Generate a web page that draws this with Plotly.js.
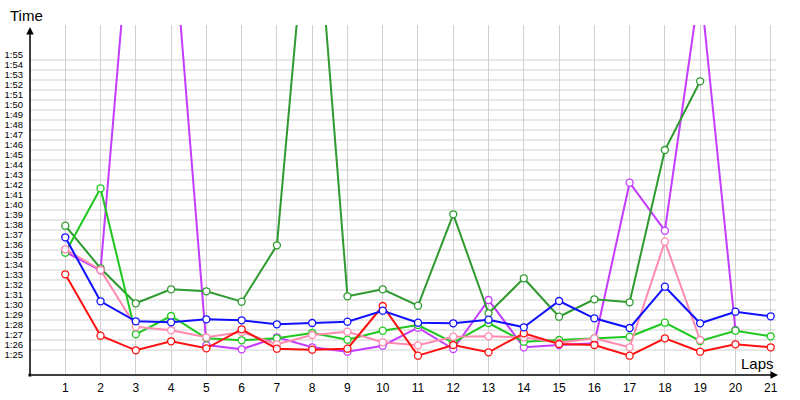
<!DOCTYPE html>
<html>
<head>
<meta charset="utf-8">
<script src="https://cdn.plot.ly/plotly-3.0.1.min.js"></script>
<style>
html,body{margin:0;padding:0;background:#ffffff;}
#chart{width:800px;height:400px;}
</style>
</head>
<body>
<div id="chart"></div>
<script>
// ---- data (lap times in seconds) ----
const laps = [1,2,3,4,5,6,7,8,9,10,11,12,13,14,15,16,17,18,19,20,21];
const lapLabels = ['1','2','3','4','5','6','7','8','9','10','11','12','13','14','15','16','17','18','19','20','21'];

const timeTickValues = [85,86,87,88,89,90,91,92,93,94,95,96,97,98,99,100,101,102,103,104,105,106,107,108,109,110,111,112,113,114,115];
const timeTickLabels = ['1:25','1:26','1:27','1:28','1:29','1:30','1:31','1:32','1:33','1:34','1:35','1:36','1:37','1:38','1:39','1:40','1:41','1:42','1:43','1:44','1:45','1:46','1:47','1:48','1:49','1:50','1:51','1:52','1:53','1:54','1:55'];
const gridTimes = [86,87,88,89,90,91,92,93,94,95,96,97,98,99,100,101,102,103,104,105,106,107,108,109,110,111,112,113,114,115];

const redTimes = [93.57,87.43,85.97,86.87,86.17,88.07,86.13,86.03,86.13,90.4,85.43,86.5,85.77,87.67,86.6,86.5,85.43,87.17,85.83,86.57,86.27];
const blueTimes = [97.27,90.87,88.87,88.77,89.07,88.97,88.57,88.7,88.83,89.93,88.73,88.67,89.03,88.27,90.9,89.17,88.2,92.33,88.67,89.83,89.37];
const greenTimes = [95.73,102.17,87.57,89.4,87.17,86.97,87.17,87.7,87.03,87.93,88.5,86.73,88.7,86.83,87.0,87.17,87.33,88.73,86.9,87.93,87.37];
const darkGreenTimes = [98.43,94.17,90.67,92.07,91.87,90.83,96.47,135.9,91.37,92.07,90.43,99.57,89.67,93.17,89.33,91.07,90.77,106.0,112.87];
const purpleTimes = [95.8,93.97,135.7,130.45,86.5,86.07,87.27,86.27,85.83,86.43,88.23,86.1,91.0,86.27,86.5,86.67,102.73,97.93,122.6,88.0];
const pinkTimes = [96.07,94.0,88.33,87.97,87.27,87.8,86.57,87.5,87.83,86.77,86.47,87.33,87.37,87.27,86.73,87.17,86.27,96.83,87.0];

const seriesList = [
  {name:'Purple', times: purpleTimes, color:'#c43cff'},
  {name:'Dark green', times: darkGreenTimes, color:'#2f9a2f'},
  {name:'Green', times: greenTimes, color:'#1ec81e'},
  {name:'Pink', times: pinkTimes, color:'#ff8ab0'},
  {name:'Red', times: redTimes, color:'#ff1010'},
  {name:'Blue', times: blueTimes, color:'#1010ff'}
];

const traces = seriesList.map(s => ({
  type:'scatter',
  mode:'lines+markers',
  name:s.name,
  x: laps.slice(0, s.times.length),
  y: s.times,
  line:{color:s.color, width:2},
  marker:{symbol:'circle', size:7, color:'#ffffff', line:{color:s.color, width:1.3}},
  cliponaxis:true,
  hoverinfo:'skip'
}));

const plotW = 746, plotH = 350;

// horizontal grid lines, one per second
const gridShapes = gridTimes.map(t => ({
  type:'line', xref:'paper', x0:0, x1:1, yref:'y', y0:t, y1:t,
  line:{color:'#d0d0d0', width:1}, layer:'below'
}));

const layout = {
  width:800, height:400,
  margin:{l:30, r:24, t:25, b:25, pad:0},
  paper_bgcolor:'#ffffff',
  plot_bgcolor:'#ffffff',
  showlegend:false,
  font:{family:'"Liberation Sans", Arial, sans-serif', color:'#000000'},
  xaxis:{
    range:[0, 21.15],
    tickmode:'array', tickvals:laps, ticktext:lapLabels,
    showgrid:true, gridcolor:'#d0d0d0', gridwidth:1,
    zeroline:false, showline:false, ticks:'',
    tickfont:{size:12, color:'#000000'},
    ticklabelstandoff:4,
    fixedrange:true
  },
  yaxis:{
    range:[83.5, 118.5],
    tickmode:'array', tickvals:timeTickValues, ticktext:timeTickLabels,
    showgrid:false, zeroline:false, showline:false, ticks:'',
    tickfont:{size:9.5, color:'#000000'},
    ticklabelshift:-5,
    ticklabelstandoff:6,
    fixedrange:true
  },
  annotations:[
    {xref:'paper', yref:'paper', x:0, y:(375-27)/plotH, ax:0, ay:348, axref:'pixel', ayref:'pixel',
     showarrow:true, arrowhead:2, arrowsize:1, arrowwidth:1.5, arrowcolor:'#000000', text:''},
    {xref:'paper', yref:'paper', x:(778-30)/plotW, y:0, ax:-748, ay:0, axref:'pixel', ayref:'pixel',
     showarrow:true, arrowhead:2, arrowsize:1, arrowwidth:1.5, arrowcolor:'#000000', text:''},
    {xref:'paper', yref:'paper', x:(8-30)/plotW, y:(375-16)/plotH, xanchor:'left', yanchor:'middle',
     text:'Time', showarrow:false, font:{size:15, color:'#000000'}},
    {xref:'paper', yref:'paper', x:(776-30)/plotW, y:(375-363)/plotH, xanchor:'right', yanchor:'middle',
     text:'Laps', showarrow:false, font:{size:15, color:'#000000'}}
  ],
  shapes: gridShapes.concat([
    {type:'rect', xref:'paper', yref:'paper', x0:-1.5/plotW, x1:1.5/plotW, y0:-1.5/plotH, y1:1.5/plotH,
     fillcolor:'#000000', line:{width:0}, layer:'above'}
  ])
};

Plotly.newPlot('chart', traces, layout, {staticPlot:true, displayModeBar:false});
</script>
</body>
</html>
